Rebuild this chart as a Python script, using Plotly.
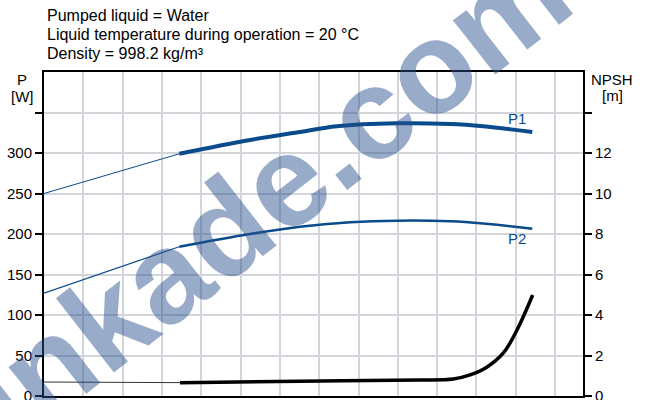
import plotly.graph_objects as go

# grid units on the x axis (no labels on the reference)
p1_thin_x = [0.0, 3.44]
p1_thin_y = [250, 299]
p1_x = [3.44, 5.24, 6.51, 7.45, 8.97, 10.33, 11.17, 12.42]
p1_y = [299, 316, 326, 333, 336.6, 335.8, 333, 326]

p2_thin_x = [0.0, 3.44]
p2_thin_y = [127, 184.3]
p2_x = [3.44, 5.24, 6.51, 7.79, 8.97, 10.33, 11.17, 12.42]
p2_y = [184.3, 200, 209, 214.4, 216.4, 215.7, 213, 206.5]

npsh_thin_x = [0.0, 3.46]
npsh_thin_y = [0.69, 0.66]
npsh_x = [3.46, 6.5, 9.57, 10.41, 10.84, 11.26, 11.69, 12.03, 12.43]
npsh_y = [0.66, 0.73, 0.79, 0.84, 1.04, 1.42, 2.14, 3.26, 4.99]

p_ticks = [0, 50, 100, 150, 200, 250, 300, 350]
p_labels = ["0", "50", "100", "150", "200", "250", "300", ""]
n_ticks = [0, 2, 4, 6, 8, 10, 12, 14]
n_labels = ["0", "2", "4", "6", "8", "10", "12", ""]

header = ["Pumped liquid = Water",
          "Liquid temperature during operation = 20 °C",
          "Density = 998.2 kg/m³"]

BLUE = "#0a4b8c"
FONT = "Liberation Sans, Arial, sans-serif"

fig = go.Figure()
fig.add_trace(go.Scatter(x=p1_thin_x, y=p1_thin_y, mode="lines",
                         line=dict(color=BLUE, width=1)))
fig.add_trace(go.Scatter(x=p1_x, y=p1_y, mode="lines",
                         line=dict(color=BLUE, width=4, shape="spline")))
fig.add_trace(go.Scatter(x=p2_thin_x, y=p2_thin_y, mode="lines",
                         line=dict(color=BLUE, width=1.2)))
fig.add_trace(go.Scatter(x=p2_x, y=p2_y, mode="lines",
                         line=dict(color=BLUE, width=2.5, shape="spline")))
fig.add_trace(go.Scatter(x=npsh_thin_x, y=npsh_thin_y, mode="lines", yaxis="y2",
                         line=dict(color="#333333", width=1)))
fig.add_trace(go.Scatter(x=npsh_x, y=npsh_y, mode="lines", yaxis="y2",
                         line=dict(color="black", width=3.5, shape="spline")))


def lab(text, px, py, size=15, color="black"):
    return dict(text=text, xref="paper", yref="paper", x=(px - 44) / 539,
                y=(396 - py) / 324, xanchor="center", yanchor="middle",
                showarrow=False, font=dict(size=size, color=color, family=FONT))


ann = []
for i, t in enumerate(header):
    ann.append(dict(text=t, xref="paper", yref="paper", x=0.002,
                    y=(396 - (15.7 + 19 * i)) / 324, xanchor="left", yanchor="middle",
                    showarrow=False, font=dict(size=16, color="black", family=FONT)))
ann += [
    lab("P", 22, 79),
    lab("[W]", 22, 96),
    lab("NPSH", 612, 79),
    lab("[m]", 612, 95),
    dict(text="P1", x=12.04, y=342, xref="x", yref="y", showarrow=False,
         xanchor="center", yanchor="middle", font=dict(size=15, color=BLUE, family=FONT)),
    dict(text="P2", x=12.04, y=194, xref="x", yref="y", showarrow=False,
         xanchor="center", yanchor="middle", font=dict(size=15, color=BLUE, family=FONT)),
    dict(text="<b>linkade.com</b>", xref="paper", yref="paper",
         x=(255 - 44) / 539, y=(396 - 205) / 324, showarrow=False, textangle=-38,
         xanchor="center", yanchor="middle",
         font=dict(size=130, color="rgba(40,80,140,0.48)", family=FONT)),
]

fig.update_layout(
    width=645, height=400, showlegend=False,
    margin=dict(l=44, r=62, t=72, b=4, autoexpand=False),
    plot_bgcolor="white", paper_bgcolor="white",
    font=dict(family=FONT, size=15, color="black"),
    xaxis=dict(range=[0, 13.71], dtick=1, showticklabels=False, ticks="",
               automargin=False,
               showgrid=True, gridcolor="#d2d5d9", gridwidth=1.5, zeroline=False,
               showline=True, linecolor="black", linewidth=2, mirror=True),
    yaxis=dict(range=[0, 400], tickvals=p_ticks, ticktext=p_labels, ticks="outside",
               ticklen=7, tickwidth=2, tickcolor="black", showgrid=True,
               gridcolor="#d2d5d9", gridwidth=1.5, zeroline=False,
               ticklabeloverflow="allow", automargin=False,
               showline=True, linecolor="black", linewidth=2),
    yaxis2=dict(range=[0, 16], tickvals=n_ticks, ticktext=n_labels, ticks="outside",
                ticklen=7, tickwidth=2, tickcolor="black", overlaying="y", side="right",
                showgrid=False, zeroline=False, showline=True, linecolor="black",
                ticklabeloverflow="allow", automargin=False, linewidth=2),
    annotations=ann,
)

fig.write_html("out.html", config={"displayModeBar": False},
               post_script="document.body.style.margin='0px';")
